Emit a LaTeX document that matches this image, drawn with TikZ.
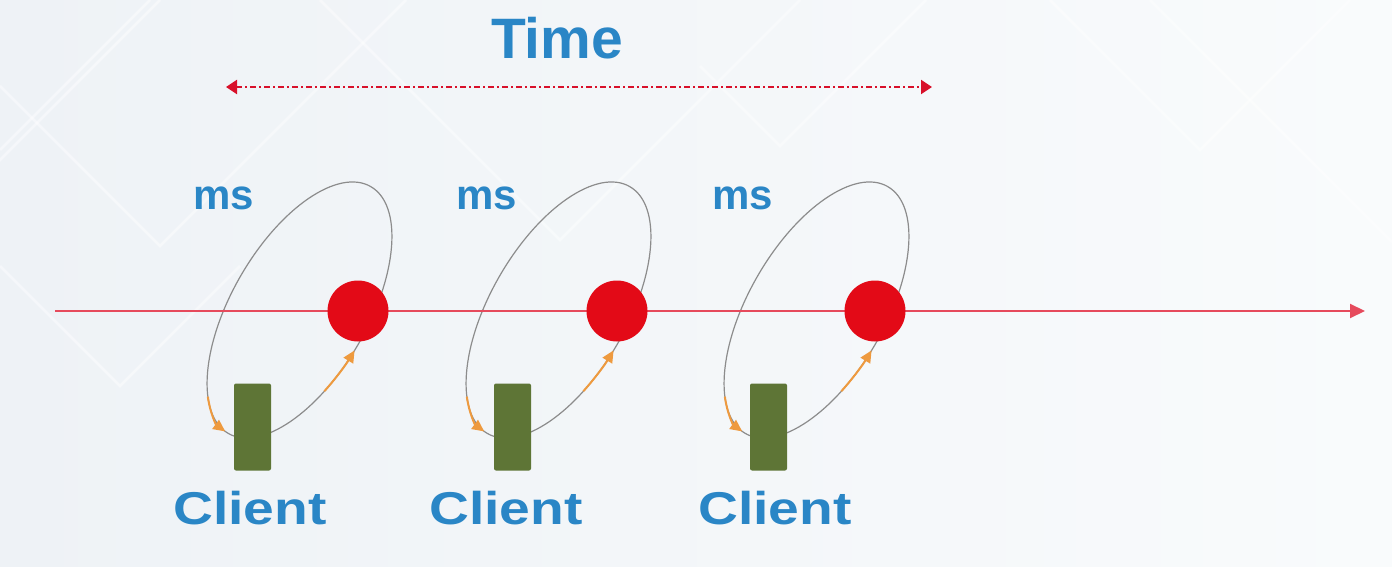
\documentclass[tikz,border=0pt]{standalone}
\usepackage{fontspec}
\setmainfont{Liberation Sans}
\usetikzlibrary{arrows.meta}
\definecolor{txtblue}{HTML}{2A86C6}
\definecolor{dotred}{HTML}{E30A17}
\definecolor{axisred}{HTML}{E64A5C}
\definecolor{dashred}{HTML}{D8102A}
\definecolor{loopgray}{HTML}{8C8C8C}
\definecolor{arrorange}{HTML}{EE9A3F}
\definecolor{clientgreen}{HTML}{5E7536}
\definecolor{bgl}{HTML}{EEF2F6}
\definecolor{bgr}{HTML}{F9FBFC}
\tikzset{
  dot/.style={circle, fill=dotred, minimum size=61pt, inner sep=0pt},
  clientbox/.style={rectangle, rounded corners=2pt, fill=clientgreen, minimum width=37pt, minimum height=87pt, inner sep=0pt},
  mslabel/.style={anchor=base, inner sep=0pt, text=txtblue, font=\fontsize{42}{48}\selectfont\bfseries},
  clientlabel/.style={anchor=base, inner sep=0pt, text=txtblue, xscale=1.2, font=\fontsize{46}{52}\selectfont\bfseries},
  timelabel/.style={anchor=base, inner sep=0pt, text=txtblue, font=\fontsize{57}{64}\selectfont\bfseries},
  axisline/.style={draw=axisred, line width=2pt, -{Triangle[length=15pt,width=14pt]}},
  timearrow/.style={draw=dashred, line width=2.2pt, dash pattern=on 6pt off 3pt on 2pt off 3pt,
    {Triangle[length=11pt,width=14pt]}-{Triangle[length=11pt,width=14pt]}},
  loopline/.style={draw=loopgray, line width=1.2pt},
  orangearrow/.style={draw=arrorange, line width=2pt, -{Triangle[length=12pt,width=11pt]}},
  bgline/.style={draw=white, line width=2.5pt, opacity=0.45}
}
\begin{document}
\begin{tikzpicture}[x=1pt,y=1pt]
\useasboundingbox (0,0) rectangle (1392,566);
\shade[left color=bgl, right color=bgr] (0,0) rectangle (1392,566);
% faint background diamonds
\draw[bgline] (160,566) -- (-40,366);
\draw[bgline] (0,480) -- (160,320) -- (360,520) -- (406,566);
\draw[bgline] (150,566) -- (0,416);
\draw[bgline] (320,566) -- (560,326) -- (800,566);
\draw[bgline] (700,500) -- (780,420) -- (926,566);
\draw[bgline] (1050,566) -- (1200,416) -- (1350,566);
\draw[bgline] (1150,566) -- (1392,324);
\draw[bgline] (0,300) -- (120,180) -- (240,300);
% axis
\coordinate (axL) at (55,255);
\coordinate (axR) at (1365,255);
% time arrow
\coordinate (tL) at (226,479);
\coordinate (tR) at (932,479);
\draw[timearrow] (tL) -- (tR);
\node[timelabel] (time) at (557,507.5) {Time};
% loops
\foreach \cx/\rx/\mx/\clx [count=\i] in {358/252.5/224/250, 617/512.5/487/506, 875/768.5/743/775}{
  \begin{scope}[shift={(\cx-58.5,256)}, rotate=60]
    \draw[loopline] (0,0) ellipse [x radius=142.5, y radius=68];
  \end{scope}
}
\draw[axisline] (axL) -- (axR);
\foreach \cx/\rx/\mx/\clx [count=\i] in {358/252.5/224/250, 617/512.5/487/506, 875/768.5/743/775}{
  \begin{scope}[shift={(\cx-58.5,256)}, rotate=60]
    \draw[orangearrow] (148:142.5 and 68) arc[start angle=148, end angle=177, x radius=142.5, y radius=68];
    \draw[orangearrow] (246:142.5 and 68) arc[start angle=246, end angle=267, x radius=142.5, y radius=68];
  \end{scope}
  \node[dot] (c\i) at (\cx,255) {};
  \node[clientbox] (r\i) at (\rx,139) {};
  \node[mslabel] (ms\i) at (\mx,356) {ms};
  \node[clientlabel] (cl\i) at (\clx,42) {Client};
}
\end{tikzpicture}
\end{document}
